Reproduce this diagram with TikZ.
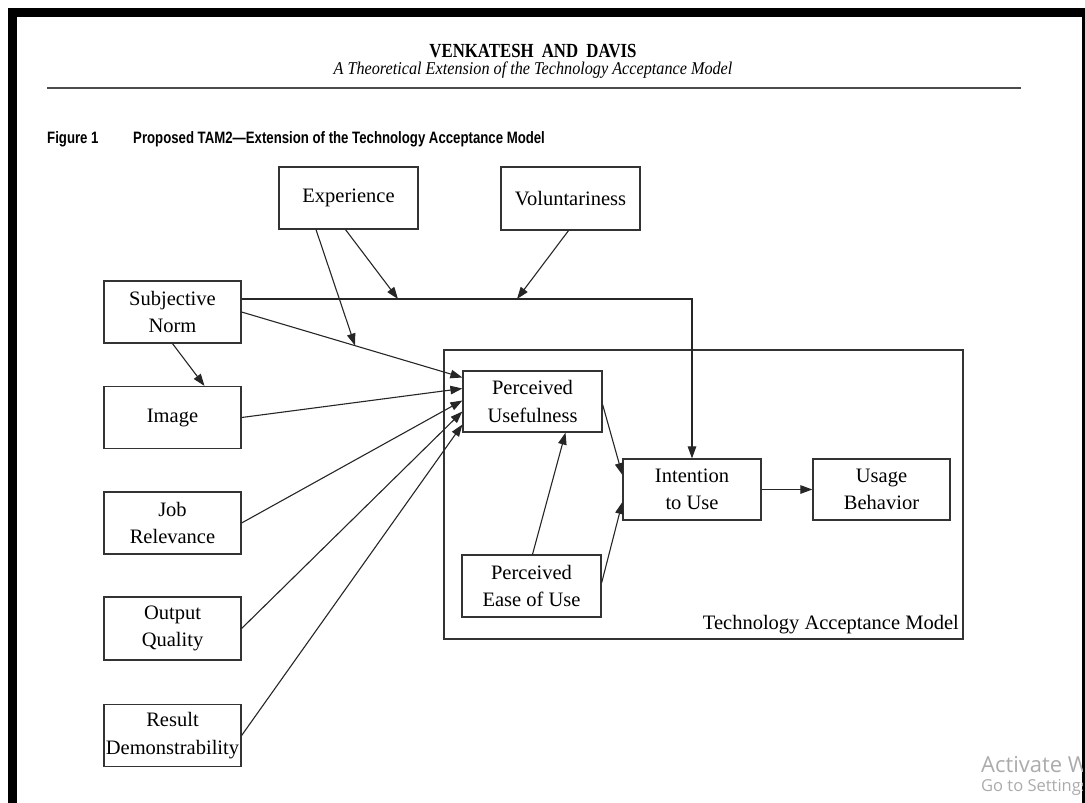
\documentclass[tikz,border=0pt]{standalone}
\usepackage{fontspec}
\setmainfont{Liberation Serif}
\newfontfamily\hdfont{Liberation Serif}[FakeStretch=0.84]
\newfontfamily\subfont{Liberation Serif}[FakeStretch=0.9]
\newfontfamily\capfont{Liberation Sans}[FakeStretch=0.8]
\newfontfamily\wmfont{Open Sans}
\usetikzlibrary{arrows.meta,calc}
\tikzset{
  box/.style={draw=black!80, line width=1.2pt, align=center, inner sep=0pt,
    font=\fontsize{20.5}{27.5}\selectfont},
  lbox/.style={box, minimum width=137pt, minimum height=62pt},
  cbox/.style={box, minimum width=139pt, minimum height=62pt},
  arr/.style={draw=black!85, line width=1.1pt, -{Triangle[length=12pt,width=8.5pt]}},
  capt/.style={anchor=base west, inner sep=0pt, font=\capfont\bfseries\fontsize{16.5}{19}\selectfont},
  wm/.style={anchor=base west, inner sep=0pt, text=black!33},
}
\begin{document}
\begin{tikzpicture}[x=1pt,y=-1pt]
\useasboundingbox (0,0) rectangle (1085,803);
% frame
\fill[black] (8,8) rectangle (1085,17);
\fill[black] (8,8) rectangle (17,803);
\fill[black] (1082,8) rectangle (1085,803);
% header
\node[anchor=base, inner sep=0pt, font=\hdfont\bfseries\fontsize{20}{24}\selectfont] (hd) at (533,57) {VENKATESH\hspace{4pt} AND\hspace{4pt} DAVIS};
\node[anchor=base, inner sep=0pt, font=\subfont\itshape\fontsize{18}{22}\selectfont] (sub) at (533,74) {A Theoretical Extension of the Technology Acceptance Model};
\draw[line width=1.8pt, black!70] (47,88) -- (1021,88);
\node[capt] (fig) at (47,143) {Figure 1};
\node[capt] (cap) at (133,143) {Proposed TAM2—Extension of the Technology Acceptance Model};
% TAM frame
\node[draw=black!80, line width=1.2pt, minimum width=519pt, minimum height=289pt, inner sep=0pt] (tam) at (703.5,494.5) {};
\node[anchor=base east, inner sep=0pt, font=\fontsize{20.5}{27.5}\selectfont] (tamlbl) at (959,629) {Technology Acceptance Model};
% boxes
\node[cbox] (exp) at (348.5,198) {Experience};
\node[cbox, minimum height=63pt] (vol) at (570.5,198.5) {Voluntariness};
\node[lbox] (sn) at (172.5,312) {Subjective\\Norm};
\node[lbox] (img) at (172.5,417.5) {Image};
\node[lbox] (job) at (172.5,523) {Job\\Relevance};
\node[lbox, minimum height=63pt] (out) at (172.5,628.5) {Output\\Quality};
\node[lbox] (res) at (172.5,735.5) {Result\\Demonstrability};
\node[cbox, minimum height=61pt] (pu) at (532.5,401.5) {Perceived\\Usefulness};
\node[cbox] (peu) at (531.5,586) {Perceived\\Ease of Use};
\node[box, minimum width=138pt, minimum height=61pt] (iu) at (692,489.5) {Intention\\to Use};
\node[lbox, minimum height=61pt] (ub) at (881.5,489.5) {Usage\\Behavior};
% junctions
\coordinate (j1) at (398,299);
\coordinate (j2) at (517,299);
\coordinate (j3) at (355,345.5);
% connectors
\draw[arr] ([yshift=13pt]sn.east) -| (iu.north);
\draw[arr] ([xshift=-3pt]exp.south) -- (j1);
\draw[arr] ([xshift=-2pt]vol.south) -- (j2);
\draw[arr] ([xshift=-32.5pt]exp.south) -- (j3);
\draw[arr] (sn.east) -- ([yshift=24pt]pu.west);
\draw[arr] (img.east) -- ([yshift=13pt]pu.west);
\draw[arr] (job.east) -- ([yshift=1pt]pu.west);
\draw[arr] (out.east) -- ([yshift=-10pt]pu.west);
\draw[arr] (res.east) -- ([yshift=-23pt]pu.west);
\draw[arr] (sn.south) -- ([xshift=32pt]img.north);
\draw[arr] ([yshift=-3pt]pu.east) -- ([yshift=14.5pt]iu.west);
\draw[arr] ([yshift=3pt]peu.east) -- ([yshift=-12.5pt]iu.west);
\draw[arr] ([xshift=1pt]peu.north) -- ([xshift=33pt]pu.south);
\draw[arr] (iu.east) -- (ub.west);
% watermark (cut off at the right edge, as in the reference)
\begin{scope}
\clip (0,0) rectangle (1082,803);
\node[wm, font=\wmfont\fontsize{22}{26}\selectfont] (wm1) at (981,772) {Activate Windows};
\node[wm, font=\wmfont\fontsize{16.5}{19}\selectfont] (wm2) at (981,791) {Go to Settings to activate Windows.};
\end{scope}
\end{tikzpicture}
\end{document}
